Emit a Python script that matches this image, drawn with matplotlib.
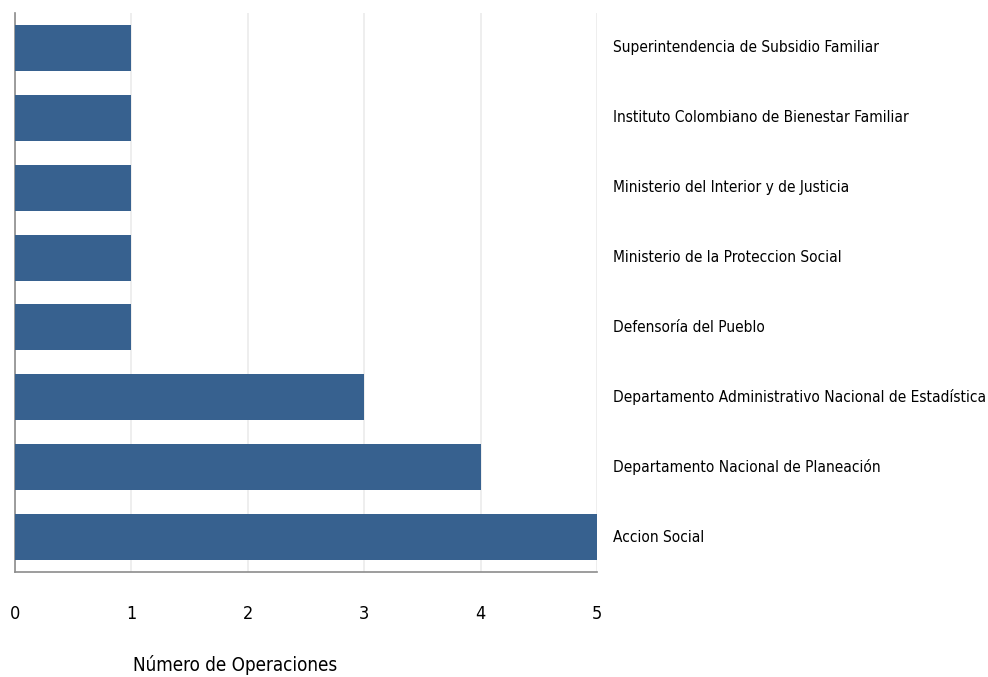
import matplotlib
matplotlib.use("Agg")
import matplotlib.pyplot as plt

entidades = ["Accion Social",
             "Departamento Nacional de Planeación",
             "Departamento Administrativo Nacional de Estadística",
             "Defensoría del Pueblo",
             "Ministerio de la Proteccion Social",
             "Ministerio del Interior y de Justicia",
             "Instituto Colombiano de Bienestar Familiar",
             "Superintendencia de Subsidio Familiar"]
operaciones = [5, 4, 3, 1, 1, 1, 1, 1]
ticks = [0, 1, 2, 3, 4, 5]

fuente = "DejaVu Sans"
color_barra = "#37618F"

fig = plt.figure(figsize=(9.88, 6.77), dpi=100)
ax = fig.add_axes([0.0152, 0.1551, 0.5891, 0.8257])

pos = list(range(len(entidades)))
ax.barh(pos, operaciones, height=0.66, color=color_barra, zorder=3)

ax.set_xlim(0, 5)
ax.set_ylim(-0.5, len(entidades) - 0.5)
ax.set_xticks(ticks)
ax.set_xticklabels([str(t) for t in ticks], family=fuente,
                   stretch="condensed", fontsize=13)
ax.tick_params(axis="x", length=0, pad=24)
ax.set_yticks([])
ax.grid(axis="x", color="#EBEBEB", linewidth=1.2, zorder=0)

for s in ["top", "right"]:
    ax.spines[s].set_visible(False)
for s in ["left", "bottom"]:
    ax.spines[s].set_color("#8C8C8C")
    ax.spines[s].set_linewidth(1.2)

for p, nombre in zip(pos, entidades):
    ax.text(5 + 16 / 116.4, p, nombre, family=fuente, stretch="condensed",
            fontsize=11.1, va="center", ha="left")

fig.text(0.238, 0.009, "Número de Operaciones", family=fuente,
         stretch="condensed", fontsize=13.5, ha="center", va="baseline")

fig.savefig("out.png", dpi=100)
